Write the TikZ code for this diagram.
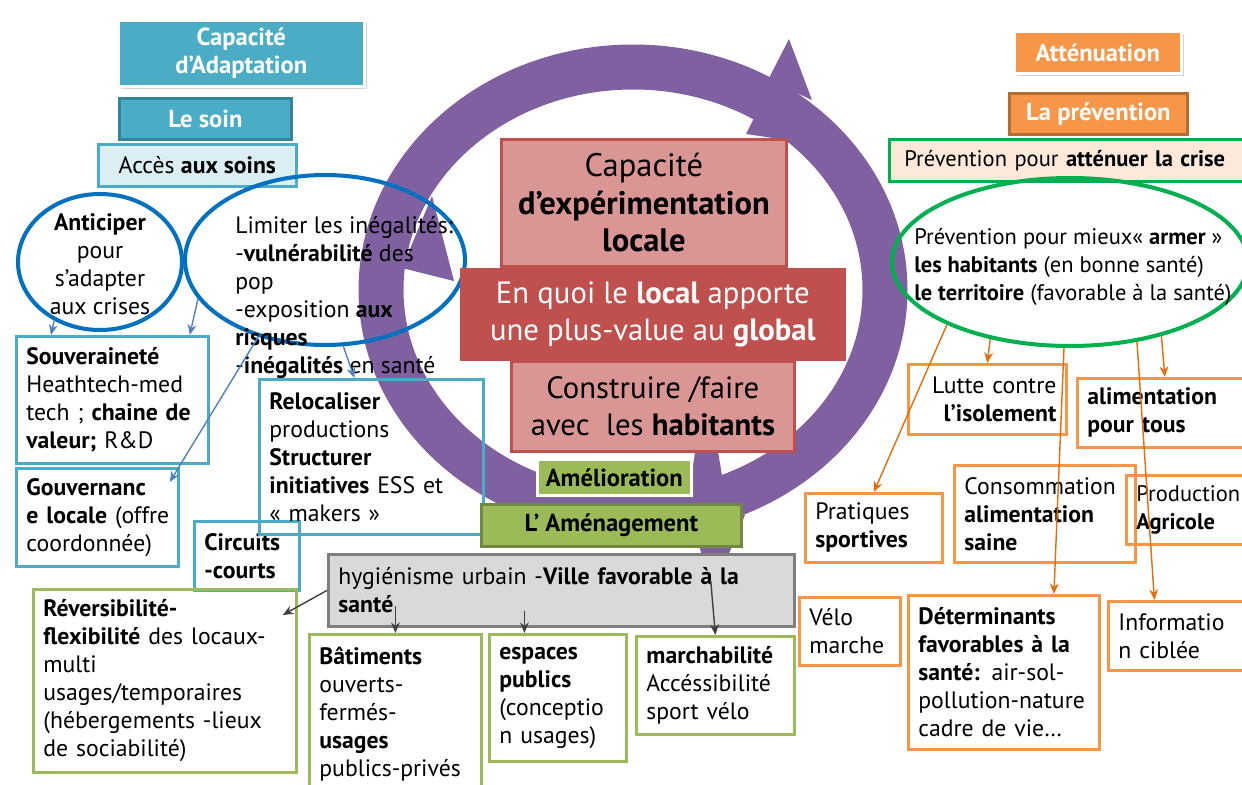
\documentclass[tikz,border=0pt]{standalone}
\usepackage{fontspec}
\setmainfont{PT Sans}
\usetikzlibrary{arrows.meta,calc,shapes.geometric,shadows}

\definecolor{aqua}{HTML}{4BACC6}
\definecolor{aquadark}{HTML}{31859C}
\definecolor{aqualight}{HTML}{DAEEF3}
\definecolor{azure}{HTML}{0070C0}
\definecolor{arrblue}{HTML}{4F81BD}
\definecolor{ringpurple}{HTML}{7F61A2}
\definecolor{rosefill}{HTML}{DA9694}
\definecolor{rosedark}{HTML}{C0504D}
\definecolor{leaf}{HTML}{9BBB59}
\definecolor{leafdark}{HTML}{71893F}
\definecolor{tang}{HTML}{F79646}
\definecolor{tangdark}{HTML}{B66D31}
\definecolor{tangline}{HTML}{E46C0A}
\definecolor{peach}{HTML}{FDE9D9}
\definecolor{vert}{HTML}{00B050}
\definecolor{stone}{HTML}{D9D9D9}
\definecolor{stonedark}{HTML}{7F7F7F}
\definecolor{ink}{HTML}{404040}

\tikzset{
  txt/.style={font=\fontsize{13.5}{15.9}\selectfont},
  small/.style={font=\fontsize{12.8}{15.9}\selectfont},
  big/.style={font=\fontsize{17.5}{21.3}\selectfont},
  frame/.style={txt, anchor=north west, inner xsep=0.2cm, inner ysep=0pt, align=left, line width=1.6pt},
  bluebox/.style={frame, draw=aqua},
  greenbox/.style={frame, draw=leaf},
  orangebox/.style={frame, draw=tang},
  tag/.style={anchor=north west, inner sep=0pt, align=center, text=white,
    font=\fontsize{14}{15.9}\selectfont\bfseries},
  core/.style={big, anchor=north west, inner sep=0pt, align=center, line width=1.6pt},
  shade/.style={drop shadow={shadow xshift=1.5pt, shadow yshift=-1.5pt, opacity=0.35}},
  barr/.style={draw=arrblue, line width=0.8pt, -{Stealth[length=6pt,width=5pt]}},
  oarr/.style={draw=tangline, line width=0.8pt, -{Stealth[length=6pt,width=5pt]}},
  garr/.style={draw=ink, line width=0.8pt, -{Stealth[length=6pt,width=5pt]}}
}

\begin{document}
\begin{tikzpicture}[x=0.02cm, y=-0.02cm]
\useasboundingbox (0,0) rectangle (1242,785);

% cycle
\coordinate (rc) at (633,290);
\draw[ringpurple, line width=0.9cm] (rc) ellipse [x radius=252, y radius=223];
\fill[ringpurple] (768,80) -- (789,39) -- (812,100) -- cycle;
\fill[ringpurple] (757,112) -- (746,134) -- (800,142) -- (795,114) -- cycle;
\fill[ringpurple] (432,196) -- (454,281) -- (402,268) -- cycle;
\fill[ringpurple] (690,512) -- (702,556) -- (728,556) -- (745,515) -- cycle;
\fill[ringpurple] (690,488) -- (696,445) -- (717,445) -- (724,488) -- cycle;

% adaptation
\node[tag, fill=aqua, draw=white, line width=1.5pt, shade, minimum width=4.92cm, minimum height=1.32cm] (capad) at (117,19) {Capacité\\d’Adaptation};
\node[tag, fill=aqua, draw=aquadark, line width=1.6pt, minimum width=3.44cm, minimum height=0.82cm] (soin) at (118,97) {Le soin};
\node[txt, anchor=north west, inner sep=0pt, fill=aqualight, draw=aqua, line width=1.6pt, minimum width=3.96cm, minimum height=0.84cm] (acces) at (97,143) {Accès \textbf{aux soins}};

\node[ellipse, draw=azure, line width=2.3pt, minimum width=3.28cm, minimum height=2.72cm] (anticip) at (100,262) {};
\node[txt, align=center, inner sep=0pt] (antictxt) at (100,264) {\textbf{Anticiper}\\pour\\s’adapter\\aux crises};
\node[ellipse, draw=azure, line width=2.3pt, minimum width=5.6cm, minimum height=3.4cm] (limiter) at (325,260) {};
\node[txt, anchor=north west, align=left, inner sep=0pt] (limtxt) at (235,216) {Limiter les inégalités:\\-\textbf{vulnérabilité} des\\pop\\-exposition \textbf{aux}\\\textbf{risques}\\-\textbf{inégalités} en santé};

\node[bluebox, text width=3.44cm, minimum height=2.54cm] (souv) at (15,335) {\textbf{Souveraineté}\\Heathtech-med\\tech ; \textbf{chaine de}\\\textbf{valeur;} R\&D};
\node[bluebox, text width=2.84cm, minimum height=1.96cm] (gouv) at (15,467) {\textbf{Gouvernanc}\\\mbox{\textbf{e locale} (offre}\\coordonnée)};
\node[bluebox, text width=1.7cm, minimum height=1.38cm] (circ) at (193,520) {\textbf{Circuits}\\\textbf{-courts}};
\node[bluebox, text width=4.08cm, minimum height=3.1cm] (reloc) at (258,378) {\textbf{Relocaliser}\\productions\\\textbf{Structurer}\\\textbf{initiatives} ESS et\\« makers »};

\draw[barr] (anticip.232) -- ([xshift=0.72cm]souv.north west);
\draw[barr] (limiter.197) -- ([xshift=-0.4cm]souv.north east);
\draw[barr] (limiter.229) -- ([shift={(-0.2cm,-0.3cm)}]gouv.north east);
\draw[barr] (limiter.282) -- ([xshift=-0.34cm]reloc.north);

% centre
\node[core, font=\fontsize{18.5}{21.3}\selectfont, fill=rosefill, draw=rosedark, minimum width=5.7cm, minimum height=2.54cm] (capexp) at (500,138) {Capacité\\\textbf{d’expérimentation}\\\textbf{locale}};
\node[core, fill=rosedark, draw=rosedark, text=white, minimum width=7.66cm, minimum height=1.8cm] (enquoi) at (460,268) {En quoi le \textbf{local} apporte\\une plus-value au \textbf{global}};
\node[core, fill=rosefill, draw=rosedark, minimum width=5.66cm, minimum height=1.8cm] (constr) at (510,360) {Construire /faire\\avec~ les \textbf{habitants}};
\node[tag, text=black, fill=leaf, draw=white, line width=1.5pt, shade, minimum width=3.08cm, minimum height=0.72cm] (amelio) at (536,458) {Amélioration};
\node[tag, text=black, fill=leaf, draw=leafdark, line width=1.6pt, minimum width=5.2cm, minimum height=0.84cm] (amenag) at (480,503) {L’ Aménagement};

% amenagement
\node[frame, fill=stone, draw=stonedark, text width=8.92cm, minimum height=1.44cm] (hyg) at (327,553) {hygiénisme urbain -\textbf{Ville favorable à la}\\\textbf{santé}};
\node[greenbox, text width=4.86cm, minimum height=3.66cm] (revers) at (32,588) {\textbf{Réversibilité-}\\\textbf{flexibilité} des locaux-\\multi\\usages/temporaires\\(hébergements -lieux\\de sociabilité)};
\node[greenbox, text width=3.04cm, minimum height=3.2cm] (bat) at (308,633) {\textbf{Bâtiments}\\ouverts-\\fermés-\\\textbf{usages}\\publics-privés};
\node[greenbox, text width=2.34cm, minimum height=2.54cm] (esp) at (488,633) {\textbf{espaces}\\\textbf{publics}\\(conceptio\\n usages)};
\node[greenbox, text width=2.76cm, minimum height=1.96cm] (march) at (635,635) {\textbf{marchabilité}\\Accéssibilité\\sport vélo};

\draw[garr] (hyg.west) -- ([shift={(-0.3cm,-0.54cm)}]revers.north east);
\draw[garr] ($(bat.north |- hyg.south)+(0,-22)$) -- (bat.north);
\draw[garr] ([xshift=-0.67cm]$(esp.north |- hyg.south)+(0,-17)$) -- ([xshift=-0.67cm]esp.north);
\draw[garr] ([shift={(-1.7cm,0.94cm)}]hyg.south east) -- (march.north);

% attenuation
\node[tag, fill=tang, draw=white, line width=1.5pt, shade, minimum width=3.34cm, minimum height=0.84cm] (attenu) at (1013,30) {Atténuation};
\node[tag, fill=tang, draw=tangdark, line width=1.6pt, minimum width=3.56cm, minimum height=0.82cm] (prev) at (1008,92) {La prévention};
\node[frame, small, fill=peach, draw=vert, inner xsep=0.3cm, text width=7cm, minimum height=0.84cm] (prevcrise) at (888,138) {Prévention pour \textbf{atténuer la crise}};
\node[ellipse, draw=vert, line width=2.3pt, minimum width=7.12cm, minimum height=3.36cm] (prevell) at (1070,262) {};
\node[small, anchor=north west, align=left, inner sep=0pt] (prevtxt) at (914,228) {Prévention pour mieux«~\textbf{armer}~»\\\textbf{les habitants} (en bonne santé)\\\textbf{le territoire} (favorable à la santé)};

\node[orangebox, align=right, text width=2.76cm, minimum height=1.4cm] (lutte) at (907,363) {Lutte contre\\\textbf{l’isolement}};
\node[orangebox, text width=3.1cm, minimum height=1.38cm] (alim) at (1076,377) {\textbf{alimentation}\\\textbf{pour tous}};
\node[orangebox, text width=2.34cm, minimum height=1.38cm] (prat) at (804,492) {Pratiques\\\textbf{sportives}};
\node[orangebox, text width=3.22cm, minimum height=1.94cm] (conso) at (953,464) {Consommation\\\textbf{alimentation}\\\textbf{saine}};
\node[orangebox, small, text width=2.6cm, minimum height=1.38cm] (prod) at (1125,474) {Production\\\textbf{Agricole}};
\node[orangebox, text width=1.62cm, minimum height=1.36cm] (velo) at (798,596) {Vélo\\marche};
\node[orangebox, text width=3.42cm, minimum height=3.08cm] (determ) at (907,594) {\textbf{Déterminants}\\\textbf{favorables à la}\\\textbf{santé:} air-sol-\\pollution-nature\\cadre de vie…};
\node[orangebox, text width=2.4cm, minimum height=1.38cm] (info) at (1107,600) {Informatio\\n ciblée};

\draw[oarr] (prevell.224) -- (lutte.north);
\draw[oarr] (prevell.321) -- (alim.north);
\draw[oarr] (prevell.207) -- (prat.north);
\draw[oarr] (prevell.266) -- ([xshift=1cm]determ.north);
\draw[oarr] (prevell.310) -- ([xshift=-0.48cm]info.north);
\end{tikzpicture}
\end{document}
